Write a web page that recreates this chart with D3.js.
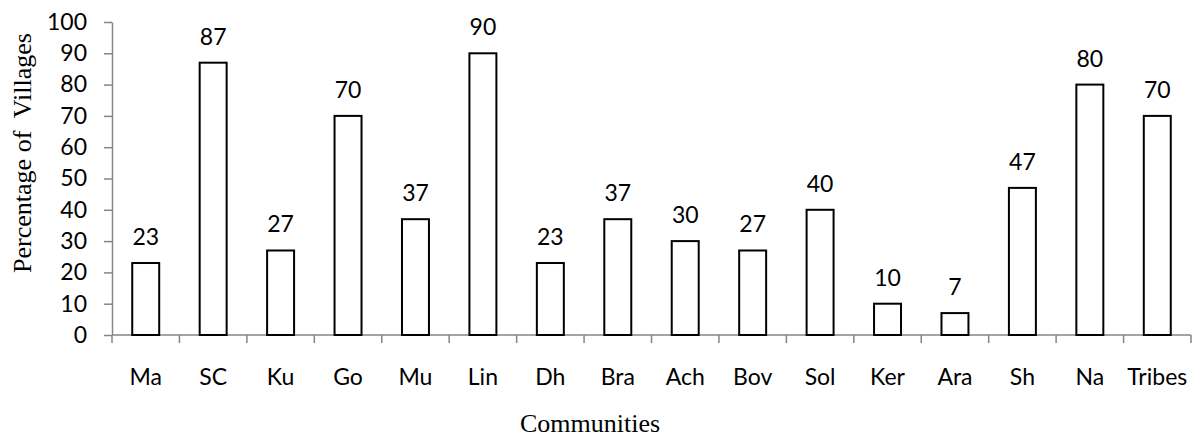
<!DOCTYPE html>
<html>
<head>
<meta charset="utf-8">
<script src="https://cdn.jsdelivr.net/npm/d3@7"></script>
<style>
  html, body { margin: 0; padding: 0; background: #fff; }
  svg { display: block; }
</style>
</head>
<body>
<svg id="chart" width="1192" height="437"></svg>
<script>
// Share of villages (%) in which each community is present
const communities = ["Ma", "SC", "Ku", "Go", "Mu", "Lin", "Dh", "Bra", "Ach", "Bov", "Sol", "Ker", "Ara", "Sh", "Na", "Tribes"];
const percentages = [23, 87, 27, 70, 37, 90, 23, 37, 30, 27, 40, 10, 7, 47, 80, 70];
const yTicks = [0, 10, 20, 30, 40, 50, 60, 70, 80, 90, 100];

const svg = d3.select("#chart");
const margin = { left: 112, right: 1, top: 22, bottom: 102 };
const W = 1192, H = 437;
const axisColor = "#868686";
const sansFont = "Lato, 'Open Sans', sans-serif";
const serifFont = "'Liberation Serif', 'DejaVu Serif', serif";
const labelSize = "23px";

const x = d3.scaleBand()
  .domain(communities)
  .range([margin.left, W - margin.right])
  .paddingInner(0)
  .paddingOuter(0);

const y = d3.scaleLinear()
  .domain([0, 100])
  .range([H - margin.bottom, margin.top]);

const barW = x.bandwidth() * 0.4;
const data = communities.map((c, i) => ({ c, v: percentages[i] }));

// Y axis
const yAxis = svg.append("g")
  .attr("transform", `translate(${margin.left},0)`)
  .call(d3.axisLeft(y).tickValues(yTicks).tickSize(8).tickPadding(17).tickSizeOuter(0));
yAxis.select(".domain").attr("stroke", axisColor).attr("stroke-width", 1.5);
yAxis.selectAll(".tick line").attr("stroke", axisColor).attr("stroke-width", 1.5);
yAxis.selectAll(".tick text")
  .attr("fill", "#000")
  .style("font-family", sansFont)
  .style("font-size", labelSize);

// X axis with ticks between categories
const xAxisG = svg.append("g").attr("transform", `translate(0,${y(0)})`);
xAxisG.append("line")
  .attr("x1", margin.left).attr("x2", W - margin.right)
  .attr("y1", 0).attr("y2", 0)
  .attr("stroke", axisColor).attr("stroke-width", 1.5);
const boundaries = communities.map(c => x(c)).concat([x(communities[communities.length - 1]) + x.bandwidth()]);
xAxisG.selectAll("line.sep")
  .data(boundaries)
  .join("line")
  .attr("class", "sep")
  .attr("x1", d => d).attr("x2", d => d)
  .attr("y1", 0).attr("y2", 8)
  .attr("stroke", axisColor).attr("stroke-width", 1.5);
xAxisG.selectAll("text.cat")
  .data(communities)
  .join("text")
  .attr("class", "cat")
  .attr("x", d => x(d) + x.bandwidth() / 2)
  .attr("y", 50)
  .attr("text-anchor", "middle")
  .style("font-family", sansFont)
  .style("font-size", labelSize)
  .attr("fill", "#000")
  .text(d => d);

// Bars
svg.append("g").selectAll("rect")
  .data(data)
  .join("rect")
  .attr("x", d => x(d.c) + (x.bandwidth() - barW) / 2)
  .attr("y", d => y(d.v))
  .attr("width", barW)
  .attr("height", d => y(0) - y(d.v))
  .attr("fill", "#fff")
  .attr("stroke", "#000")
  .attr("stroke-width", 2);

// Value labels
svg.append("g").selectAll("text")
  .data(data)
  .join("text")
  .attr("x", d => x(d.c) + x.bandwidth() / 2)
  .attr("y", d => y(d.v) - 18)
  .attr("text-anchor", "middle")
  .style("font-family", sansFont)
  .style("font-size", labelSize)
  .attr("fill", "#000")
  .text(d => d.v);

// Axis titles
svg.append("text")
  .attr("transform", "translate(31,153) rotate(-90)")
  .attr("text-anchor", "middle")
  .style("font-family", serifFont)
  .style("font-size", "26px")
  .style("white-space", "pre")
  .attr("xml:space", "preserve")
  .attr("fill", "#000")
  .text("Percentage of  Villages");

svg.append("text")
  .attr("x", 590)
  .attr("y", 432)
  .attr("text-anchor", "middle")
  .style("font-family", serifFont)
  .style("font-size", "26px")
  .attr("fill", "#000")
  .text("Communities");
</script>
</body>
</html>
